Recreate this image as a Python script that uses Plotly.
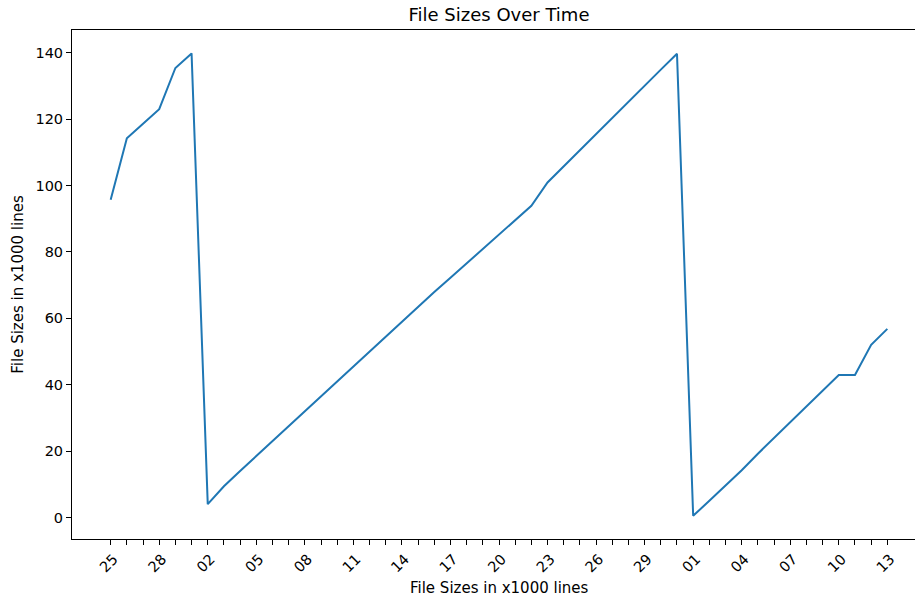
import pandas as pd
import plotly.graph_objects as go

# ---- data ----
dates = pd.date_range("2024-02-25", "2024-04-13", freq="D")
file_sizes = [
    95.7, 114.2, 118.6, 123.0, 135.4, 139.8,           # Feb 25 - Mar 1
    4.0, 9.4, 14.0, 18.5, 23.0, 27.6, 32.1, 36.6,       # Mar 2 - Mar 9
    41.1, 45.6, 50.1, 54.6, 59.1, 63.5, 67.9, 72.2,     # Mar 10 - Mar 17
    76.5, 80.8, 85.1, 89.4, 93.9, 100.9, 105.8, 110.6,  # Mar 18 - Mar 25
    115.5, 120.4, 125.2, 130.1, 134.9, 139.7,           # Mar 26 - Mar 31
    0.5, 5.0, 9.6, 14.2, 19.2, 23.9, 28.6, 33.3,        # Apr 1 - Apr 8
    38.0, 42.9, 42.9, 52.0, 56.8,                       # Apr 9 - Apr 13
]
tick_labels = [d.strftime("%d") if i % 3 == 0 else "" for i, d in enumerate(dates)]
y_ticks = [0, 20, 40, 60, 80, 100, 120, 140]

title_text = "File Sizes Over Time"
x_title = "File Sizes in x1000 lines"
y_title = "File Sizes in x1000 lines"

FONT = "DejaVu Sans"

fig = go.Figure(
    go.Scatter(
        x=dates,
        y=file_sizes,
        mode="lines",
        line=dict(color="#1f77b4", width=2),
        showlegend=False,
    )
)

x_start = dates[0] - pd.Timedelta(days=2.39)
x_end = dates[-1] + pd.Timedelta(days=1.71)

W, H = 915, 602
L, T, B = 72, 30, 602 - 539

fig.update_layout(
    width=W,
    height=H,
    margin=dict(l=L, r=0, t=T, b=B),
    paper_bgcolor="white",
    plot_bgcolor="white",
    font=dict(family=FONT, size=14, color="black"),
    title=dict(
        text=title_text,
        x=499 / W,
        xref="container",
        xanchor="center",
        y=1 - 15 / H,
        yref="container",
        yanchor="middle",
        font=dict(family=FONT, size=18, color="black"),
    ),
    annotations=[
        dict(
            text=x_title,
            xref="paper",
            yref="paper",
            x=(499 - L) / (W - L),
            y=0,
            yshift=-(588 - 539),
            xanchor="center",
            yanchor="middle",
            showarrow=False,
            font=dict(family=FONT, size=15, color="black"),
        )
    ],
)

fig.update_xaxes(
    type="date",
    range=[x_start, x_end],
    tickmode="array",
    tickvals=list(dates),
    ticktext=tick_labels,
    tickangle=-45,
    ticklabelshift=3,
    ticklabelstandoff=0,
    ticks="outside",
    ticklen=5,
    tickwidth=1,
    tickcolor="black",
    showline=True,
    linecolor="black",
    linewidth=1,
    mirror=True,
    showgrid=False,
    zeroline=False,
    tickfont=dict(family=FONT, size=14.5, color="black"),
    automargin=False,
)

fig.update_yaxes(
    range=[-6.5, 146.85],
    tickmode="array",
    tickvals=y_ticks,
    ticks="outside",
    ticklen=5,
    tickwidth=1,
    tickcolor="black",
    showline=True,
    linecolor="black",
    linewidth=1,
    mirror=False,
    showgrid=False,
    zeroline=False,
    tickfont=dict(family=FONT, size=14.5, color="black"),
    title=dict(text=y_title, font=dict(family=FONT, size=15, color="black"), standoff=8),
    automargin=False,
)

fig.write_html(
    "out.html",
    config={"displayModeBar": False},
    post_script="document.body.style.margin='0';document.body.style.overflow='hidden';",
)
